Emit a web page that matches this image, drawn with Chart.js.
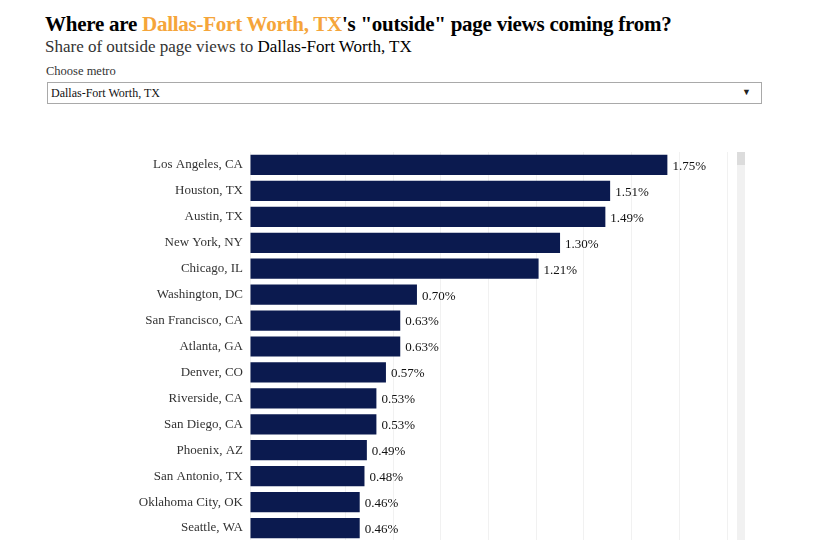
<!DOCTYPE html>
<html>
<head>
<meta charset="utf-8">
<script src="https://cdn.jsdelivr.net/npm/chart.js@4.4.0/dist/chart.umd.min.js"></script>
<style>
  html, body { margin: 0; padding: 0; background: #fff; overflow: hidden; width: 830px; height: 540px; }
  body { position: relative; font-family: "Liberation Serif", "Times New Roman", serif; }
  #title { position: absolute; left: 45px; top: 12px; font-size: 21px; font-weight: bold; color: #000; white-space: nowrap; letter-spacing: -0.25px; }
  #title .metro { color: #f5a53a; }
  #subtitle { position: absolute; left: 45px; top: 37px; font-size: 17px; color: #333; white-space: nowrap; }
  #subtitle .metro { color: #000; }
  #chooseLabel { position: absolute; left: 46px; top: 64px; font-size: 12.5px; color: #333; }
  #select { position: absolute; left: 47px; top: 82px; width: 713px; height: 20px; border: 1px solid #a9a9a9; box-sizing: content-box; font-size: 12px; color: #111; }
  #select .txt { position: absolute; left: 3px; top: 3px; }
  #select .arrow { position: absolute; right: 10px; top: 4px; font-size: 9px; color: #222; }
  #chartWrap { position: absolute; left: 0; top: 152px; width: 830px; height: 400px; }
  #track { position: absolute; left: 737px; top: 152px; width: 8px; height: 400px; background: #f1f1f1; }
  #thumb { position: absolute; left: 737px; top: 152px; width: 8px; height: 13px; background: #dcdcdc; }
</style>
</head>
<body>
<div id="title">Where are <span class="metro">Dallas-Fort Worth, TX</span>'s "outside" page views coming from?</div>
<div id="subtitle">Share of outside page views to <span class="metro">Dallas-Fort Worth, TX</span></div>
<div id="chooseLabel">Choose metro</div>
<div id="select"><span class="txt">Dallas-Fort Worth, TX</span><span class="arrow">&#9660;</span></div>
<div id="chartWrap"><canvas id="c"></canvas></div>
<div id="track"></div>
<div id="thumb"></div>
<script>
const metros = ["Los Angeles, CA", "Houston, TX", "Austin, TX", "New York, NY", "Chicago, IL",
  "Washington, DC", "San Francisco, CA", "Atlanta, GA", "Denver, CO", "Riverside, CA",
  "San Diego, CA", "Phoenix, AZ", "San Antonio, TX", "Oklahoma City, OK", "Seattle, WA"];
const shares = [1.75, 1.51, 1.49, 1.30, 1.21, 0.70, 0.63, 0.63, 0.57, 0.53, 0.53, 0.49, 0.48, 0.46, 0.46];
const xTicks = [0, 0.2, 0.4, 0.6, 0.8, 1.0, 1.2, 1.4, 1.6, 1.8, 2.0];

const valueLabels = {
  id: 'valueLabels',
  afterDatasetsDraw(chart) {
    const ctx = chart.ctx;
    const meta = chart.getDatasetMeta(0);
    ctx.save();
    ctx.font = '13px "Liberation Serif", serif';
    ctx.fillStyle = '#111';
    ctx.textAlign = 'left';
    ctx.textBaseline = 'middle';
    meta.data.forEach((bar, i) => {
      ctx.fillText(shares[i].toFixed(2) + '%', bar.x + 5, bar.y + 1.5);
    });
    ctx.restore();
  }
};

new Chart(document.getElementById('c'), {
  type: 'bar',
  data: {
    labels: metros,
    datasets: [{
      data: shares,
      backgroundColor: '#0b1a4f',
      borderWidth: 0,
      barPercentage: 0.78,
      categoryPercentage: 1.0
    }]
  },
  options: {
    indexAxis: 'y',
    responsive: true,
    maintainAspectRatio: false,
    animation: false,
    layout: { padding: { left: 0, right: 103, top: 0, bottom: 0 } },
    plugins: { legend: { display: false }, tooltip: { enabled: false } },
    scales: {
      x: {
        min: 0, max: 2.0,
        afterBuildTicks(scale) { scale.ticks = xTicks.map(v => ({ value: v })); },
        afterFit(scale) { scale.height = 11; scale.paddingLeft = 0; scale.paddingRight = 0; },
        ticks: { display: false },
        grid: { color: '#f1f1f1', drawTicks: false, lineWidth: 1 },
        border: { display: false }
      },
      y: {
        afterFit(scale) { scale.width = 250; scale.paddingTop = 0; scale.paddingBottom = 0; },
        ticks: {
          color: '#333',
          padding: 7,
          font: { family: '"Liberation Serif", serif', size: 13 }
        },
        grid: { display: false, drawTicks: false },
        border: { display: false }
      }
    }
  },
  plugins: [valueLabels]
});
</script>
</body>
</html>
